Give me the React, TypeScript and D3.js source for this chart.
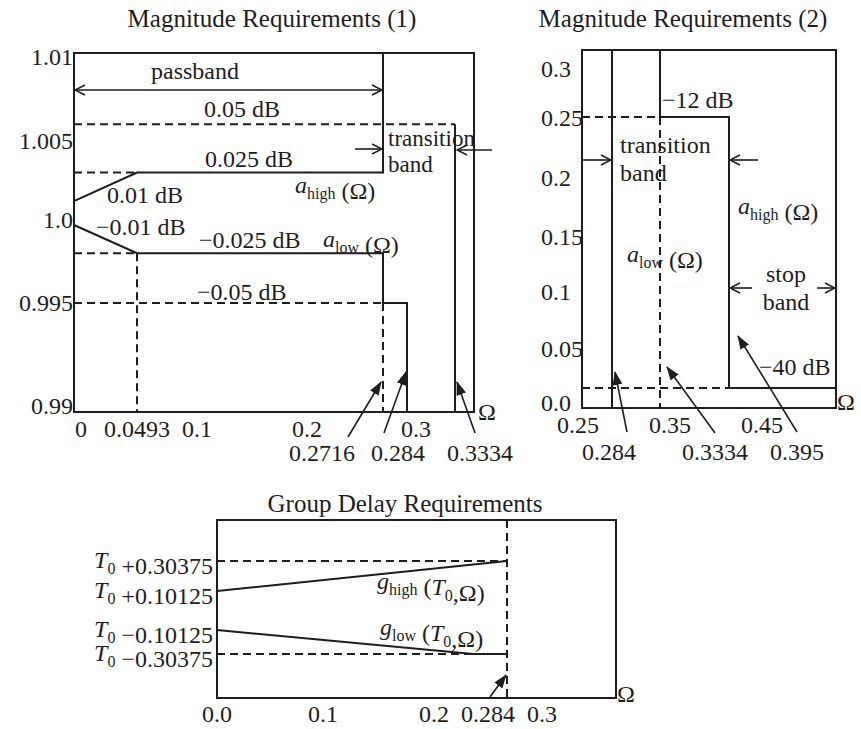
import React from "react";
import * as d3 from "d3";

// ---------------- Magnitude Requirements (1) ----------------
const m1XTicks = [0, 0.0493, 0.1, 0.2, 0.3];
const m1XTickLabels = ["0", "0.0493", "0.1", "0.2", "0.3"];
const m1YTicks = [0.99, 0.995, 1.0, 1.005, 1.01];
const m1YTickLabels = ["0.99", "0.995", "1.0", "1.005", "1.01"];
const m1Edges = [0.2716, 0.284, 0.3334];
const m1EdgeLabels = ["0.2716", "0.284", "0.3334"];
const m1XMax = 0.37;
const m1YMin = 0.9897;
const m1YMax = 1.0102;
// a_high(Ω) and a_low(Ω)
const m1HighOmega = [0, 0.0493, 0.2716, 0.2716];
const m1HighMag = [1.0012, 1.003, 1.003, 1.0102];
const m1LowOmega = [0, 0.0493, 0.2716, 0.2716, 0.284, 0.284];
const m1LowMag = [0.9997, 0.998, 0.998, 0.995, 0.995, 0.9897];
const m1OuterOmega = [0.3334, 0.3334];
const m1OuterMag = [1.006, 0.9897];
// dashed guide segments: [omega0, mag0, omega1, mag1]
const m1Dashed: number[][] = [
  [0, 1.006, 0.3334, 1.006],
  [0, 1.003, 0.0493, 1.003],
  [0, 0.998, 0.0493, 0.998],
  [0, 0.995, 0.2716, 0.995],
  [0.0493, 0.998, 0.0493, 0.9897],
  [0.2716, 0.995, 0.2716, 0.9897],
];

// ---------------- Magnitude Requirements (2) ----------------
const m2XTicks = [0.25, 0.35, 0.45];
const m2XTickLabels = ["0.25", "0.35", "0.45"];
const m2YTicks = [0, 0.05, 0.1, 0.15, 0.2, 0.25, 0.3];
const m2YTickLabels = ["0.0", "0.05", "0.1", "0.15", "0.2", "0.25", "0.3"];
const m2Edges = [0.284, 0.3334, 0.395];
const m2EdgeLabels = ["0.284", "0.3334", "0.395"];
const m2XMax = 0.53;
const m2YMin = -0.005;
const m2YMax = 0.32;
const m2LowOmega = [0.284, 0.284];
const m2LowMag = [0.32, -0.005];
const m2HighOmega = [0.3334, 0.3334, 0.395, 0.395, 0.53];
const m2HighMag = [0.32, 0.251, 0.251, 0.014, 0.014];
const m2Dashed: number[][] = [
  [0.25, 0.251, 0.3334, 0.251],
  [0.25, 0.014, 0.395, 0.014],
  [0.3334, 0.251, 0.3334, -0.005],
];

// ---------------- Group Delay Requirements ----------------
const gdXTicks = [0, 0.1, 0.2, 0.3];
const gdXTickLabels = ["0.0", "0.1", "0.2", "0.3"];
const gdEdge = 0.284;
const gdEdgeLabel = "0.284";
const gdYTicks = [0.30375, 0.10125, -0.10125, -0.30375];
const gdYTickSigns = ["+", "+", "−", "−"];
const gdYTickNums = ["0.30375", "0.10125", "0.10125", "0.30375"];
const gdXMax = 0.37;
const gdYMin = -0.6;
const gdYMax = 0.6;
const gdHighOmega = [0, 0.284];
const gdHighDelay = [0.10125, 0.30375];
const gdLowOmega = [0, 0.245, 0.284];
const gdLowDelay = [-0.10125, -0.30375, -0.30375];
const gdDashed: number[][] = [
  [0, 0.30375, 0.284, 0.30375],
  [0, -0.30375, 0.245, -0.30375],
  [0.284, 0.6, 0.284, -0.6],
];

const FONT = "'Liberation Serif', 'Times New Roman', Times, serif";
const INK = "#1d1d1d";
const FS = 24;
const SUB = 16;

type Sc = d3.ScaleLinear<number, number>;

function pathOf(xs: number[], ys: number[], sx: Sc, sy: Sc) {
  const pts = xs.map((x, i) => [x, ys[i]] as [number, number]);
  return d3
    .line<[number, number]>()
    .x((d) => sx(d[0]))
    .y((d) => sy(d[1]))(pts) as string;
}

const Sub = ({ main, sub, italic = true }: { main: string; sub: string; italic?: boolean }) => (
  <>
    <tspan fontStyle={italic ? "italic" : "normal"}>{main}</tspan>
    <tspan fontSize={SUB} dy={6}>
      {sub}
    </tspan>
    <tspan dy={-6}>{""}</tspan>
  </>
);

export default function App() {
  // piecewise scales (the drawing is not to scale)
  const x1 = d3
    .scaleLinear()
    .domain([0, 0.0493, 0.1, 0.2, 0.2716, 0.284, 0.3, 0.3334, m1XMax])
    .range([74, 137, 197, 307, 383, 407, 416, 455, 474]);
  const y1 = d3
    .scaleLinear()
    .domain([m1YMin, 0.99, 0.995, 1.0, 1.005, 1.01, m1YMax])
    .range([412, 406, 303, 220, 141, 57, 53]);

  const x2 = d3
    .scaleLinear()
    .domain([0.25, 0.284, 0.3334, 0.35, 0.395, 0.45, m2XMax])
    .range([582, 612, 660, 670, 729, 762, 836]);
  const y2 = d3
    .scaleLinear()
    .domain([m2YMin, 0, 0.05, 0.1, 0.15, 0.2, 0.25, 0.3, m2YMax])
    .range([408, 403, 349, 292, 237, 178, 118, 69, 50]);

  const x3 = d3
    .scaleLinear()
    .domain([0, 0.1, 0.2, 0.284, 0.3, gdXMax])
    .range([217, 323, 434, 507, 542, 616]);
  const y3 = d3
    .scaleLinear()
    .domain([gdYMin, -0.30375, -0.10125, 0.10125, 0.30375, gdYMax])
    .range([698, 654, 630, 591, 561, 520]);

  const solid = { stroke: INK, strokeWidth: 2, fill: "none" } as const;
  const dashed = { stroke: INK, strokeWidth: 2, fill: "none", strokeDasharray: "8,5" } as const;
  const txt = { fontFamily: FONT, fontSize: FS, fill: INK } as const;

  const box = (sx: Sc, sy: Sc, xa: number, xb: number, ya: number, yb: number) => (
    <rect
      x={sx(xa)}
      y={sy(yb)}
      width={sx(xb) - sx(xa)}
      height={sy(ya) - sy(yb)}
      {...solid}
    />
  );

  const dashSegs = (segs: number[][], sx: Sc, sy: Sc, key: string) =>
    segs.map((s, i) => (
      <line key={key + i} x1={sx(s[0])} y1={sy(s[1])} x2={sx(s[2])} y2={sy(s[3])} {...dashed} />
    ));

  const pointer = (tx: number, ty: number, hx: number, hy: number, key: string) => (
    <line key={key} x1={tx} y1={ty} x2={hx} y2={hy} stroke={INK} strokeWidth={1.6} markerEnd="url(#filled)" />
  );
  const openArrow = (xa: number, xb: number, y: number, key: string, both = false) => (
    <line
      key={key}
      x1={xa}
      y1={y}
      x2={xb}
      y2={y}
      stroke={INK}
      strokeWidth={1.6}
      markerEnd="url(#open)"
      markerStart={both ? "url(#open)" : undefined}
    />
  );

  // layout offsets for the edge-frequency pointers
  const m1Ptr = [
    { tail: [-35, 437], head: [-2, 382], lx: -61 },
    { tail: [-23, 433], head: [-1, 372], lx: -9 },
    { tail: [20, 433], head: [2, 382], lx: 25 },
  ];
  const m2Ptr = [
    { tail: [15, 432], head: [3, 372], lx: -3 },
    { tail: [55, 433], head: [7, 367], lx: 55 },
    { tail: [68, 432], head: [9, 336], lx: 68 },
  ];

  return (
    <svg
      width={861}
      height={729}
      viewBox="0 0 861 729"
      style={{ position: "absolute", left: 0, top: 0, background: "#fff" }}
    >
      <defs>
        <marker
          id="filled"
          viewBox="0 0 14 10"
          refX={13}
          refY={5}
          markerWidth={14}
          markerHeight={10}
          markerUnits="userSpaceOnUse"
          orient="auto"
        >
          <path d="M0,0 L14,5 L0,10 z" fill={INK} />
        </marker>
        <marker
          id="open"
          viewBox="0 0 12 12"
          refX={11}
          refY={6}
          markerWidth={12}
          markerHeight={12}
          markerUnits="userSpaceOnUse"
          orient="auto-start-reverse"
        >
          <path d="M1,1 L11,6 L1,11" fill="none" stroke={INK} strokeWidth={1.5} />
        </marker>
      </defs>
      <rect x={0} y={0} width={861} height={729} fill="#fff" />

      {/* ================= Magnitude Requirements (1) ================= */}
      <text {...txt} fontSize={25} x={272} y={27} textAnchor="middle">
        Magnitude Requirements (1)
      </text>
      {box(x1, y1, 0, m1XMax, m1YMin, m1YMax)}
      {dashSegs(m1Dashed, x1, y1, "d1")}
      <path d={pathOf(m1HighOmega, m1HighMag, x1, y1)} {...solid} />
      <path d={pathOf(m1LowOmega, m1LowMag, x1, y1)} {...solid} />
      <path d={pathOf(m1OuterOmega, m1OuterMag, x1, y1)} {...solid} />
      {m1YTicks.map((v, i) => (
        <text key={"y1" + i} {...txt} x={73} y={y1(v)} dy="0.35em" textAnchor="end">
          {m1YTickLabels[i]}
        </text>
      ))}
      {m1XTicks.map((v, i) => (
        <text
          key={"x1" + i}
          {...txt}
          x={i === 0 ? x1(v) + 1 : x1(v)}
          y={437}
          textAnchor={i === 0 ? "start" : "middle"}
        >
          {m1XTickLabels[i]}
        </text>
      ))}
      {m1Edges.map((v, i) => (
        <g key={"e1" + i}>
          {pointer(x1(v) + m1Ptr[i].tail[0], m1Ptr[i].tail[1], x1(v) + m1Ptr[i].head[0], m1Ptr[i].head[1], "p1" + i)}
          <text {...txt} x={x1(v) + m1Ptr[i].lx} y={461} textAnchor="middle">
            {m1EdgeLabels[i]}
          </text>
        </g>
      ))}
      <text {...txt} x={478} y={420}>
        Ω
      </text>
      {openArrow(x1(0) + 1, x1(0.2716) - 1, 90, "pb", true)}
      <text {...txt} x={195} y={79} textAnchor="middle">
        passband
      </text>
      <text {...txt} x={242} y={117} textAnchor="middle">
        0.05 dB
      </text>
      <text {...txt} x={249} y={167} textAnchor="middle">
        0.025 dB
      </text>
      <text {...txt} x={107} y={203}>
        0.01 dB
      </text>
      <text {...txt} x={96} y={235}>
        −0.01 dB
      </text>
      <text {...txt} x={199} y={248}>
        −0.025 dB
      </text>
      <text {...txt} x={197} y={300}>
        −0.05 dB
      </text>
      <text {...txt} x={295} y={193}>
        <Sub main="a" sub="high" />
        <tspan> (Ω)</tspan>
      </text>
      <text {...txt} x={323} y={247}>
        <Sub main="a" sub="low" />
        <tspan> (Ω)</tspan>
      </text>
      <text {...txt} fontSize={23} x={388} y={146}>
        transition
      </text>
      <text {...txt} fontSize={23} x={388} y={172}>
        band
      </text>
      {openArrow(355, x1(0.2716) - 1, 149, "t1a")}
      {openArrow(492, x1(0.3334) + 2, 150, "t1b")}

      {/* ================= Magnitude Requirements (2) ================= */}
      <text {...txt} fontSize={25} x={683} y={27} textAnchor="middle">
        Magnitude Requirements (2)
      </text>
      {box(x2, y2, 0.25, m2XMax, m2YMin, m2YMax)}
      {dashSegs(m2Dashed, x2, y2, "d2")}
      <path d={pathOf(m2LowOmega, m2LowMag, x2, y2)} {...solid} />
      <path d={pathOf(m2HighOmega, m2HighMag, x2, y2)} {...solid} />
      {m2YTicks.map((v, i) => (
        <text key={"y2" + i} {...txt} x={541} y={y2(v)} dy="0.35em" textAnchor="start">
          {m2YTickLabels[i]}
        </text>
      ))}
      {m2XTicks.map((v, i) => (
        <text key={"x2" + i} {...txt} x={i === 0 ? x2(v) - 4 : x2(v)} y={433} textAnchor="middle">
          {m2XTickLabels[i]}
        </text>
      ))}
      {m2Edges.map((v, i) => (
        <g key={"e2" + i}>
          {pointer(x2(v) + m2Ptr[i].tail[0], m2Ptr[i].tail[1], x2(v) + m2Ptr[i].head[0], m2Ptr[i].head[1], "p2" + i)}
          <text {...txt} x={x2(v) + m2Ptr[i].lx} y={460} textAnchor="middle">
            {m2EdgeLabels[i]}
          </text>
        </g>
      ))}
      <text {...txt} x={837} y={410}>
        Ω
      </text>
      <text {...txt} x={662} y={108}>
        −12 dB
      </text>
      <text {...txt} x={620} y={153}>
        transition
      </text>
      <text {...txt} x={620} y={181}>
        band
      </text>
      {openArrow(x2(0.25) + 1, x2(0.284) - 1, 160, "t2a")}
      {openArrow(758, x2(0.395) + 1, 160, "t2b")}
      <text {...txt} x={738} y={214}>
        <Sub main="a" sub="high" />
        <tspan> (Ω)</tspan>
      </text>
      <text {...txt} x={627} y={262}>
        <Sub main="a" sub="low" />
        <tspan> (Ω)</tspan>
      </text>
      <text {...txt} x={786} y={282} textAnchor="middle">
        stop
      </text>
      <text {...txt} x={786} y={310} textAnchor="middle">
        band
      </text>
      {openArrow(752, x2(0.395) + 1, 288, "s2a")}
      {openArrow(817, x2(m2XMax) - 1, 288, "s2b")}
      <text {...txt} x={759} y={375}>
        −40 dB
      </text>

      {/* ================= Group Delay Requirements ================= */}
      <text {...txt} fontSize={25} x={405} y={512} textAnchor="middle">
        Group Delay Requirements
      </text>
      {box(x3, y3, 0, gdXMax, gdYMin, gdYMax)}
      {dashSegs(gdDashed, x3, y3, "d3")}
      <path d={pathOf(gdHighOmega, gdHighDelay, x3, y3)} {...solid} />
      <path d={pathOf(gdLowOmega, gdLowDelay, x3, y3)} {...solid} />
      {gdYTicks.map((v, i) => (
        <text key={"y3" + i} {...txt} x={213} y={y3(v) + 7} textAnchor="end">
          <Sub main="T" sub="0" />
          <tspan>{" " + gdYTickSigns[i] + gdYTickNums[i]}</tspan>
        </text>
      ))}
      {gdXTicks.map((v, i) => (
        <text key={"x3" + i} {...txt} x={x3(v)} y={722} textAnchor="middle">
          {gdXTickLabels[i]}
        </text>
      ))}
      {pointer(x3(gdEdge) - 17, 697, x3(gdEdge) - 1, 675, "p3")}
      <text {...txt} x={x3(gdEdge) - 19} y={722} textAnchor="middle">
        {gdEdgeLabel}
      </text>
      <text {...txt} x={617} y={702}>
        Ω
      </text>
      <text {...txt} x={377} y={589}>
        <Sub main="g" sub="high" />
        <tspan> (</tspan>
        <Sub main="T" sub="0" />
        <tspan>,Ω)</tspan>
      </text>
      <text {...txt} x={380} y={635}>
        <Sub main="g" sub="low" />
        <tspan> (</tspan>
        <Sub main="T" sub="0" />
        <tspan>,Ω)</tspan>
      </text>
    </svg>
  );
}
